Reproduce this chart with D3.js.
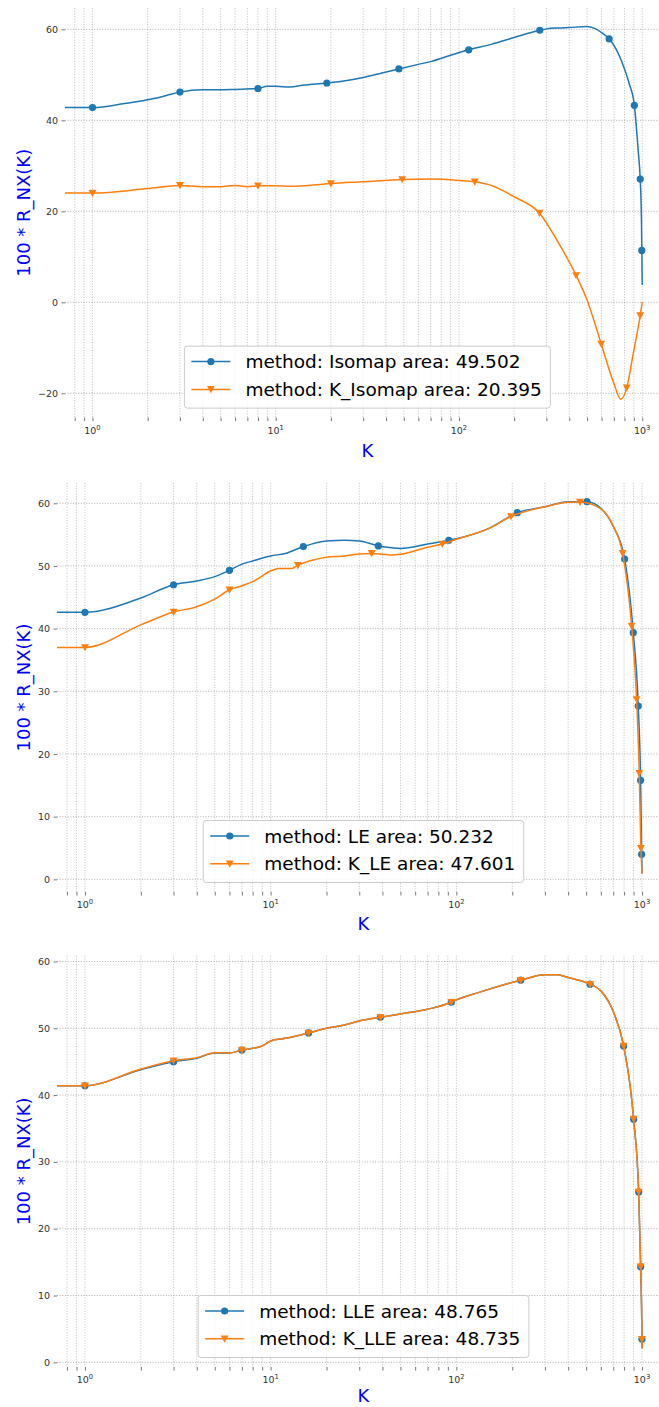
<!DOCTYPE html>
<html><head><meta charset="utf-8">
<script src="https://cdn.jsdelivr.net/npm/d3@7"></script>
<style>body{margin:0;background:#fff;} svg{display:block;font-family:"DejaVu Sans",sans-serif;}</style>
</head><body><svg id="c" width="659" height="1407"></svg>
<script>
// ---------- DATA ----------
const xTickValues = [1, 10, 100, 1000];
const xTickExp = ["0", "1", "2", "3"];

// Panel 1: Isomap vs K_Isomap
const isoK   = [0, 1, 1.5, 2, 2.5, 3, 4, 5, 6, 8, 9, 10, 12, 14, 19, 25, 30, 38, 47, 60, 70, 90, 113, 150, 200, 276, 300, 350, 400, 500, 550, 600, 660, 700, 750, 800, 850, 906, 950, 975, 990, 995, 1000];
const isoV   = [42.8, 42.8, 43.7, 44.5, 45.4, 46.2, 46.7, 46.7, 46.8, 47.0, 47.5, 47.5, 47.3, 47.7, 48.2, 48.8, 49.4, 50.4, 51.3, 52.3, 52.9, 54.3, 55.5, 56.7, 58.2, 59.8, 60.1, 60.3, 60.4, 60.6, 60.2, 59.3, 57.9, 56.5, 54.2, 51.3, 48.0, 43.3, 33.5, 27.1, 18.8, 11.4, 3.8];
const isoMarks = [1, 3, 8, 19, 47, 113, 276, 660, 906, 975, 995];
const kisoK  = [0, 1, 2, 3, 4, 5, 6, 7, 8, 10, 12, 15, 20, 30, 49, 70, 100, 122, 150, 200, 275, 350, 436, 500, 598, 700, 763, 823, 894, 975, 1000];
const kisoV  = [24.0, 24.0, 25.0, 25.7, 25.4, 25.4, 25.7, 25.4, 25.6, 25.6, 25.5, 25.7, 26.1, 26.5, 27.0, 27.1, 26.8, 26.5, 25.7, 23.2, 19.6, 13.0, 5.9, 0.5, -9.2, -17.8, -21.3, -18.8, -11.2, -2.9, 0.1];
const kisoMarks = [1, 3, 8, 20, 49, 122, 275, 436, 598, 823, 975];
const isoLabels = ["method: Isomap area: 49.502", "method: K_Isomap area: 20.395"];
const isoYTicks = [-20, 0, 20, 40, 60];

// Panel 2: LE vs K_LE
const leK  = [0, 1, 2, 3, 4, 5, 6, 7, 8, 10, 12, 15, 20, 25, 30, 38, 45, 50, 70, 91, 100, 150, 213, 300, 400, 505, 600, 700, 806, 897, 954, 982, 995, 1000];
const leV  = [42.6, 42.6, 44.9, 47.0, 47.6, 48.3, 49.3, 50.3, 50.8, 51.6, 52.0, 53.1, 54.0, 54.1, 54.0, 53.2, 52.9, 52.8, 53.5, 54.1, 54.35, 56.0, 58.5, 59.45, 60.25, 60.25, 59.2, 56.3, 51.1, 39.35, 27.65, 15.8, 4.0, 0.95];
const leMarks = [1, 3, 6, 15, 38, 91, 213, 505, 806, 897, 954, 982, 995];
const kleK = [0, 1, 2, 3, 4, 5, 6, 7, 8, 10, 11, 13, 14, 20, 25, 30, 35, 45, 50, 70, 84, 100, 150, 197, 300, 400, 463, 600, 700, 786, 879, 935, 966, 986, 1000];
const kleV = [37.0, 37.0, 40.6, 42.65, 43.5, 44.7, 46.2, 46.85, 47.5, 49.2, 49.6, 49.6, 50.1, 51.4, 51.6, 51.9, 52.0, 51.75, 51.85, 53.0, 53.5, 54.25, 56.0, 57.9, 59.45, 60.15, 60.2, 59.1, 56.35, 52.0, 40.4, 28.7, 16.9, 4.95, 0.95];
const kleMarks = [1, 3, 6, 14, 35, 84, 197, 463, 786, 879, 935, 966, 986];
const leLabels = ["method: LE area: 50.232", "method: K_LE area: 47.601"];
const leYTicks = [0, 10, 20, 30, 40, 50, 60];

// Panel 3: LLE vs K_LLE
const lleK  = [0, 1, 2, 3, 4, 5, 6, 7, 8, 9, 10, 12, 16, 20, 25, 30, 39, 50, 70, 94, 100, 130, 222, 300, 350, 400, 525, 600, 700, 796, 901, 959, 983, 999, 1000];
const lleV  = [41.4, 41.4, 43.8, 45.0, 45.5, 46.3, 46.3, 46.75, 47.0, 47.35, 48.1, 48.5, 49.3, 50.0, 50.5, 51.1, 51.65, 52.15, 52.85, 53.9, 54.25, 55.3, 57.2, 58.0, 58.0, 57.6, 56.6, 55.6, 52.5, 47.35, 36.4, 25.5, 14.3, 3.45, 2.1];
const lleMarks = [1, 3, 7, 16, 39, 94, 222, 525, 796, 901, 959, 983, 999];
const klleK = [0, 1, 2, 3, 4, 5, 6, 7, 8, 9, 10, 12, 16, 20, 25, 30, 39, 50, 70, 94, 100, 130, 222, 300, 350, 400, 525, 600, 700, 796, 901, 959, 983, 999, 1000];
const klleV = [41.4, 41.4, 43.9, 45.15, 45.6, 46.35, 46.3, 46.75, 47.0, 47.35, 48.1, 48.5, 49.3, 50.0, 50.5, 51.1, 51.65, 52.15, 52.85, 53.9, 54.25, 55.3, 57.2, 58.0, 58.0, 57.6, 56.6, 55.6, 52.5, 47.35, 36.4, 25.5, 14.3, 3.45, 2.1];
const klleMarks = [1, 3, 7, 16, 39, 94, 222, 525, 796, 901, 959, 983, 999];
const lleLabels = ["method: LLE area: 48.765", "method: K_LLE area: 48.735"];
const lleYTicks = [0, 10, 20, 30, 40, 50, 60];

// ---------- LAYOUT ----------
const BLUE = "#1f77b4", ORANGE = "#ff7f0e";
const xDom = [Math.pow(10, -0.15), Math.pow(10, 3.15)];
const panels = [
  {left: 65,   right: 669.7, top: 8,     bottom: 417.6, xlabGap: 39, yDom: [-25.34, 64.69], yTicks: isoYTicks, labels: isoLabels,
   series: [{K: isoK, V: isoV, M: isoMarks}, {K: kisoK, V: kisoV, M: kisoMarks}]},
  {left: 57.1, right: 669.9, top: 483.1, bottom: 892,   xlabGap: 38, yDom: [-2.02, 63.22],  yTicks: leYTicks, labels: leLabels,
   series: [{K: leK, V: leV, M: leMarks}, {K: kleK, V: kleV, M: kleMarks}]},
  {left: 57.1, right: 669.9, top: 955.8, bottom: 1367,  xlabGap: 34.5, yDom: [-0.7, 60.85],   yTicks: lleYTicks, labels: lleLabels,
   series: [{K: lleK, V: lleV, M: lleMarks}, {K: klleK, V: klleV, M: klleMarks}]}
];

const svg = d3.select("#c");
const fmt = v => (v < 0 ? "\u2212" + Math.abs(v) : String(v));
const triPath = "M-3.9,-3.3L3.9,-3.3L0,3.9Z";

panels.forEach((p, pi) => {
  const x = d3.scaleLog().domain(xDom).range([p.left, p.right]);
  const y = d3.scaleLinear().domain(p.yDom).range([p.bottom, p.top]);
  const g = svg.append("g");
  const clipId = "clip" + pi;
  g.append("clipPath").attr("id", clipId).append("rect")
    .attr("x", p.left).attr("y", p.top - 10).attr("width", p.right - p.left).attr("height", p.bottom - p.top + 20);

  // minor + major vertical ticks
  const vticks = [];
  for (let e = -1; e <= 3; e++) for (let m = 1; m <= 9; m++) {
    const v = m * Math.pow(10, e);
    if (v >= xDom[0] && v <= xDom[1]) vticks.push(v);
  }
  // grid
  g.append("g").selectAll("line").data(vticks).join("line")
    .attr("x1", d => x(d)).attr("x2", d => x(d)).attr("y1", p.top).attr("y2", p.bottom)
    .attr("stroke", "#b0b0b0").attr("stroke-width", 0.8).attr("stroke-dasharray", "1,1.65");
  g.append("g").selectAll("line").data(p.yTicks).join("line")
    .attr("x1", p.left).attr("x2", p.right).attr("y1", d => y(d)).attr("y2", d => y(d))
    .attr("stroke", "#a0a0a0").attr("stroke-width", 0.8).attr("stroke-dasharray", "1,1.65");

  // y axis (ticks + labels)
  const yAxis = d3.axisLeft(y).tickValues(p.yTicks).tickFormat(fmt).tickSize(3.5).tickPadding(3.5);
  const ya = g.append("g").attr("transform", `translate(${p.left},0)`).call(yAxis);
  ya.select(".domain").remove();
  ya.selectAll("line").attr("stroke", "#555").attr("stroke-width", 0.8);
  ya.selectAll("text").attr("font-size", 9.5).attr("fill", "#333").attr("font-family", "DejaVu Sans");

  // x axis ticks
  const xAxis = d3.axisBottom(x).tickValues(vticks).tickFormat("").tickSize(3.5);
  const xa = g.append("g").attr("transform", `translate(0,${p.bottom})`).call(xAxis);
  xa.select(".domain").remove();
  xa.selectAll("line").attr("stroke", "#555").attr("stroke-width", 0.8);
  // major labels 10^n
  const lab = g.append("g").selectAll("text").data(xTickValues).join("text")
    .attr("x", d => x(d)).attr("y", p.bottom + 16).attr("text-anchor", "middle")
    .attr("font-size", 9.5).attr("fill", "#333");
  lab.append("tspan").text("10");
  lab.append("tspan").attr("dy", -4).attr("font-size", 6.8).text((d, i) => xTickExp[i]);

  // axis labels
  g.append("text").attr("x", (p.left + p.right) / 2).attr("y", p.bottom + p.xlabGap)
    .attr("text-anchor", "middle").attr("font-size", 18).attr("fill", "#0000ff").text("K");
  g.append("text").attr("transform", `translate(30,${(p.top + p.bottom) / 2}) rotate(-90)`)
    .attr("text-anchor", "middle").attr("font-size", 18).attr("fill", "#0000ff").text("100 * R_NX(K)");

  // lines
  const colors = [BLUE, ORANGE];
  const plot = g.append("g").attr("clip-path", `url(#${clipId})`);
  p.series.forEach((s, si) => {
    const pts = s.K.map((k, i) => [k > 0 ? x(k) : p.left - 2, y(s.V[i])]);
    plot.append("path").attr("d", d3.line().curve(d3.curveMonotoneX)(pts))
      .attr("fill", "none").attr("stroke", colors[si]).attr("stroke-width", 1.5);
    const mk = s.M.map(k => [k, s.V[s.K.indexOf(k)]]);
    if (si === 0) {
      plot.append("g").selectAll("circle").data(mk).join("circle")
        .attr("cx", d => x(d[0])).attr("cy", d => y(d[1])).attr("r", 3.6).attr("fill", BLUE);
    } else {
      plot.append("g").selectAll("path").data(mk).join("path")
        .attr("d", triPath).attr("transform", d => `translate(${x(d[0])},${y(d[1])})`).attr("fill", ORANGE);
    }
  });

  // legend
  const leg = g.append("g");
  const box = leg.append("rect");
  const texts = p.labels.map((t, i) => leg.append("text").attr("font-size", 18.5).attr("fill", "#000").text(t));
  const maxW = d3.max(texts, t => t.node().getComputedTextLength());
  const W = 61 + maxW + 8.5, H = 62;
  const lx = (p.left + p.right) / 2 - W / 2, ly = p.bottom - 9.5 - H;
  box.attr("x", lx).attr("y", ly).attr("width", W).attr("height", H).attr("rx", 3)
    .attr("fill", "#fff").attr("fill-opacity", 0.8).attr("stroke", "#cccccc").attr("stroke-width", 1);
  const rowY = [ly + 15.5, ly + 43.3];
  texts.forEach((t, i) => t.attr("x", lx + 61).attr("y", rowY[i] + 6.6));
  rowY.forEach((ry, i) => {
    leg.append("line").attr("x1", lx + 7).attr("x2", lx + 46).attr("y1", ry).attr("y2", ry)
      .attr("stroke", colors[i]).attr("stroke-width", 1.5);
    if (i === 0) leg.append("circle").attr("cx", lx + 26.5).attr("cy", ry).attr("r", 3.6).attr("fill", BLUE);
    else leg.append("path").attr("d", triPath).attr("transform", `translate(${lx + 26.5},${ry})`).attr("fill", ORANGE);
  });
});
</script></body></html>
